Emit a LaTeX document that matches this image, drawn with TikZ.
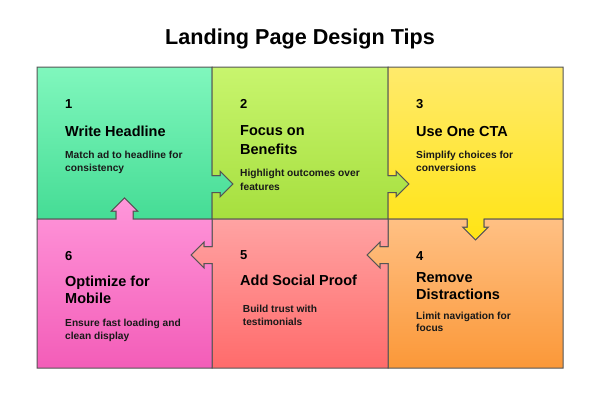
\documentclass[tikz,border=0pt]{standalone}
\usepackage{fontspec}
\setmainfont{Liberation Sans}
\definecolor{bordergray}{HTML}{555555}
\definecolor{c1top}{HTML}{80F7BD}\definecolor{c1bot}{HTML}{45DC95}
\definecolor{c2top}{HTML}{C8F56E}\definecolor{c2bot}{HTML}{A6DF3E}
\definecolor{c3top}{HTML}{FFEA6C}\definecolor{c3bot}{HTML}{FFE414}
\definecolor{c4top}{HTML}{FFC084}\definecolor{c4bot}{HTML}{FB9838}
\definecolor{c5top}{HTML}{FFA3A3}\definecolor{c5bot}{HTML}{FF6B6B}
\definecolor{c6top}{HTML}{FF96DA}\definecolor{c6bot}{HTML}{F35DB8}
\begin{document}
\begin{tikzpicture}[x=1pt,y=-1pt,
  cell/.style={draw=bordergray,line width=1pt,line join=miter},
  titletext/.style={anchor=base,inner sep=0pt,font=\bfseries\fontsize{21.6}{25}\selectfont},
  numtext/.style={anchor=base west,inner sep=0pt,font=\bfseries\fontsize{13}{15}\selectfont},
  headtext/.style={anchor=base west,inner sep=0pt,font=\bfseries\fontsize{14.5}{17}\selectfont},
  desctext/.style={anchor=base west,inner sep=0pt,font=\bfseries\fontsize{10.2}{12}\selectfont,text=black!90}]
\useasboundingbox (0,0) rectangle (600,402);
\fill[white] (0,0) rectangle (600,402);
% cell 1
\shade[cell,top color=c1top,bottom color=c1bot]
  (37,67) -- (212,67) -- (212,175.5) -- (220,175.5) -- (220,171) -- (233,184) -- (220,197) -- (220,192.5) -- (212,192.5)
  -- (212,219) -- (133,219) -- (133,211) -- (137.5,211) -- (124.5,198) -- (111.5,211) -- (116,211) -- (116,219) -- (37,219) -- cycle;
% cell 2
\shade[cell,top color=c2top,bottom color=c2bot]
  (212,67) -- (388,67) -- (388,175.5) -- (396,175.5) -- (396,171) -- (409,184) -- (396,197) -- (396,192.5) -- (388,192.5)
  -- (388,219) -- (212,219) -- (212,192.5) -- (220,192.5) -- (220,197) -- (233,184) -- (220,171) -- (220,175.5) -- (212,175.5) -- cycle;
% cell 3
\shade[cell,top color=c3top,bottom color=c3bot]
  (388,67) -- (563,67) -- (563,219) -- (484,219) -- (484,227) -- (488.5,227) -- (475.5,240) -- (462.5,227) -- (467,227) -- (467,219)
  -- (388,219) -- (388,192.5) -- (396,192.5) -- (396,197) -- (409,184) -- (396,171) -- (396,175.5) -- (388,175.5) -- cycle;
% cell 4
\shade[cell,top color=c4top,bottom color=c4bot]
  (388,219) -- (467,219) -- (467,227) -- (462.5,227) -- (475.5,240) -- (488.5,227) -- (484,227) -- (484,219) -- (563,219)
  -- (563,368) -- (388,368) -- (388,263.5) -- (380,263.5) -- (380,268) -- (367,255) -- (380,242) -- (380,246.5) -- (388,246.5) -- cycle;
% cell 5
\shade[cell,top color=c5top,bottom color=c5bot]
  (212,219) -- (388,219) -- (388,246.5) -- (380,246.5) -- (380,242) -- (367,255) -- (380,268) -- (380,263.5) -- (388,263.5)
  -- (388,368) -- (212,368) -- (212,263.5) -- (204,263.5) -- (204,268) -- (191,255) -- (204,242) -- (204,246.5) -- (212,246.5) -- cycle;
% cell 6
\shade[cell,top color=c6top,bottom color=c6bot]
  (37,219) -- (116,219) -- (116,211) -- (111.5,211) -- (124.5,198) -- (137.5,211) -- (133,211) -- (133,219) -- (212,219)
  -- (212,246.5) -- (204,246.5) -- (204,242) -- (191,255) -- (204,268) -- (204,263.5) -- (212,263.5) -- (212,368) -- (37,368) -- cycle;
% title
\node[titletext] (title) at (300,44.5) {Landing Page Design Tips};
% cell 1 text
\node[numtext] (n1) at (65,108.3) {1};
\node[headtext] (h1) at (65,136) {Write Headline};
\node[desctext] (d1a) at (65,158.3) {Match ad to headline for};
\node[desctext] (d1b) at (65,171.5) {consistency};
% cell 2 text
\node[numtext] (n2) at (240,108.3) {2};
\node[headtext] (h2a) at (240,135.7) {Focus on};
\node[headtext] (h2b) at (240,154) {Benefits};
\node[desctext] (d2a) at (240,176.7) {Highlight outcomes over};
\node[desctext] (d2b) at (240,190) {features};
% cell 3 text
\node[numtext] (n3) at (416,108.3) {3};
\node[headtext] (h3) at (416,136) {Use One CTA};
\node[desctext] (d3a) at (416,158.3) {Simplify choices for};
\node[desctext] (d3b) at (416,171) {conversions};
% cell 4 text
\node[numtext] (n4) at (416,260) {4};
\node[headtext] (h4a) at (416,282.3) {Remove};
\node[headtext] (h4b) at (416,299.3) {Distractions};
\node[desctext] (d4a) at (416,319.3) {Limit navigation for};
\node[desctext] (d4b) at (416,331.7) {focus};
% cell 5 text
\node[numtext] (n5) at (240,259.3) {5};
\node[headtext] (h5) at (240,285.7) {Add Social Proof};
\node[desctext] (d5a) at (242.7,312.7) {Build trust with};
\node[desctext] (d5b) at (242.7,325.7) {testimonials};
% cell 6 text
\node[numtext] (n6) at (65,260) {6};
\node[headtext] (h6a) at (65,286) {Optimize for};
\node[headtext] (h6b) at (65,303.3) {Mobile};
\node[desctext] (d6a) at (65,326.7) {Ensure fast loading and};
\node[desctext] (d6b) at (65,339.3) {clean display};
\end{tikzpicture}
\end{document}
